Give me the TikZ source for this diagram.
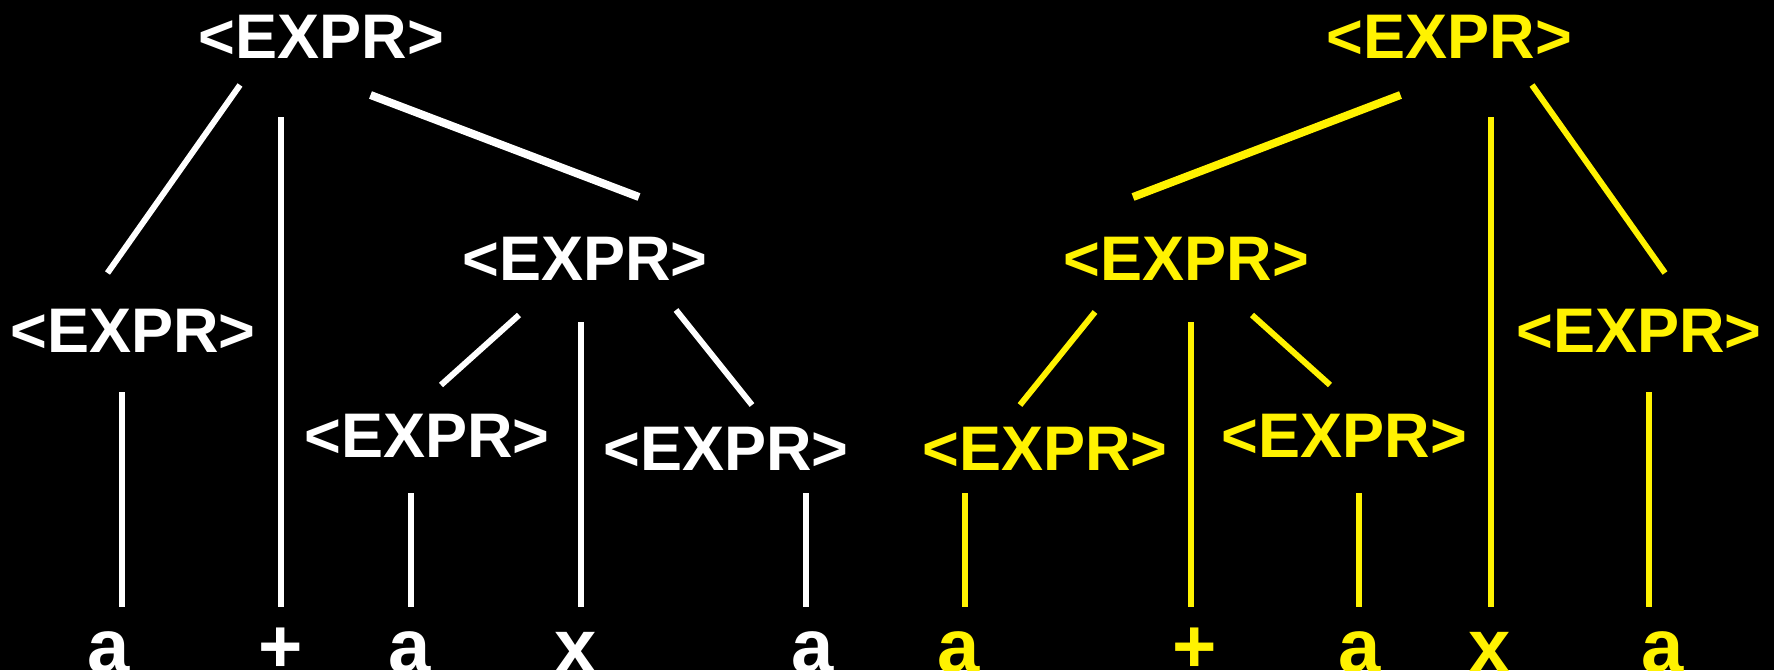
\documentclass[tikz,border=0pt]{standalone}
\usepackage{fontspec}
\setmainfont{Liberation Sans}
\begin{document}
\begin{tikzpicture}[x=1pt,y=-1pt,
  expr/.style={anchor=base, inner sep=0pt, font=\fontsize{63}{70}\selectfont\bfseries},
  leaf/.style={anchor=base, inner sep=0pt, font=\fontsize{76}{80}\selectfont\bfseries},
  edge/.style={line width=6pt},
  wide/.style={line width=8pt},
  wt/.style={white, text=white},
  yl/.style={yellow, text=yellow}]
\fill[black] (0,0) rectangle (1774,670);
\useasboundingbox (0,0) rectangle (1774,670);
% ---------- left tree (white) ----------
\begin{scope}[wt]
\node[expr] (L0) at (321.5,58) {<EXPR>};
\node[expr] (L1) at (133,352) {<EXPR>};
\node[expr] (L2) at (585,280) {<EXPR>};
\node[expr] (L3) at (427,457) {<EXPR>};
\node[expr] (L4) at (726,470) {<EXPR>};
\node[leaf] (La1) at (109,672) {a};
\node[leaf] (Lp)  at (281,672) {+};
\node[leaf] (La2) at (410,672) {a};
\node[leaf] (Lx)  at (576,672) {x};
\node[leaf] (La3) at (813,672) {a};
\draw[edge] ([shift={(-81.5,27)}]L0.base) -- ([shift={(-25.5,-79)}]L1.base);
\draw[edge] ([shift={(-40.5,59)}]L0.base) -- ([shift={(0,-65)}]Lp.base);
\draw[wide] ([shift={(49,37)}]L0.base) -- ([shift={(54,-83)}]L2.base);
\draw[edge] ([shift={(-11.4,40)}]L1.base) -- ([shift={(12.6,-65)}]La1.base);
\draw[edge] ([shift={(-66,35)}]L2.base) -- ([shift={(14,-72)}]L3.base);
\draw[edge] ([shift={(-4,42)}]L2.base) -- ([shift={(5,-65)}]Lx.base);
\draw[edge] ([shift={(91,30)}]L2.base) -- ([shift={(26,-65)}]L4.base);
\draw[edge] ([shift={(-16,36)}]L3.base) -- ([shift={(1,-65)}]La2.base);
\draw[edge] ([shift={(80,23)}]L4.base) -- ([shift={(-7,-65)}]La3.base);
\end{scope}
% ---------- right tree (yellow) ----------
\begin{scope}[yl]
\node[expr] (R0) at (1449.5,58) {<EXPR>};
\node[expr] (R1) at (1186.5,280) {<EXPR>};
\node[expr] (R2) at (1639,352) {<EXPR>};
\node[expr] (R3) at (1045,470) {<EXPR>};
\node[expr] (R4) at (1344.5,457) {<EXPR>};
\node[leaf] (Ra1) at (959,672) {a};
\node[leaf] (Rp)  at (1194.5,672) {+};
\node[leaf] (Ra2) at (1360,672) {a};
\node[leaf] (Rx)  at (1490,672) {x};
\node[leaf] (Ra3) at (1663,672) {a};
\draw[wide] ([shift={(-49,37)}]R0.base) -- ([shift={(-53.5,-83)}]R1.base);
\draw[edge] ([shift={(41,59)}]R0.base) -- ([shift={(0.5,-65)}]Rx.base);
\draw[edge] ([shift={(82.5,27)}]R0.base) -- ([shift={(26,-79)}]R2.base);
\draw[edge] ([shift={(10,40)}]R2.base) -- ([shift={(-14,-65)}]Ra3.base);
\draw[edge] ([shift={(-91.5,32)}]R1.base) -- ([shift={(-25,-65)}]R3.base);
\draw[edge] ([shift={(4,42)}]R1.base) -- ([shift={(-4,-65)}]Rp.base);
\draw[edge] ([shift={(65.5,35)}]R1.base) -- ([shift={(-14.5,-72)}]R4.base);
\draw[edge] ([shift={(-80,23)}]R3.base) -- ([shift={(6,-65)}]Ra1.base);
\draw[edge] ([shift={(14.5,36)}]R4.base) -- ([shift={(-1,-65)}]Ra2.base);
\end{scope}
\end{tikzpicture}
\end{document}
